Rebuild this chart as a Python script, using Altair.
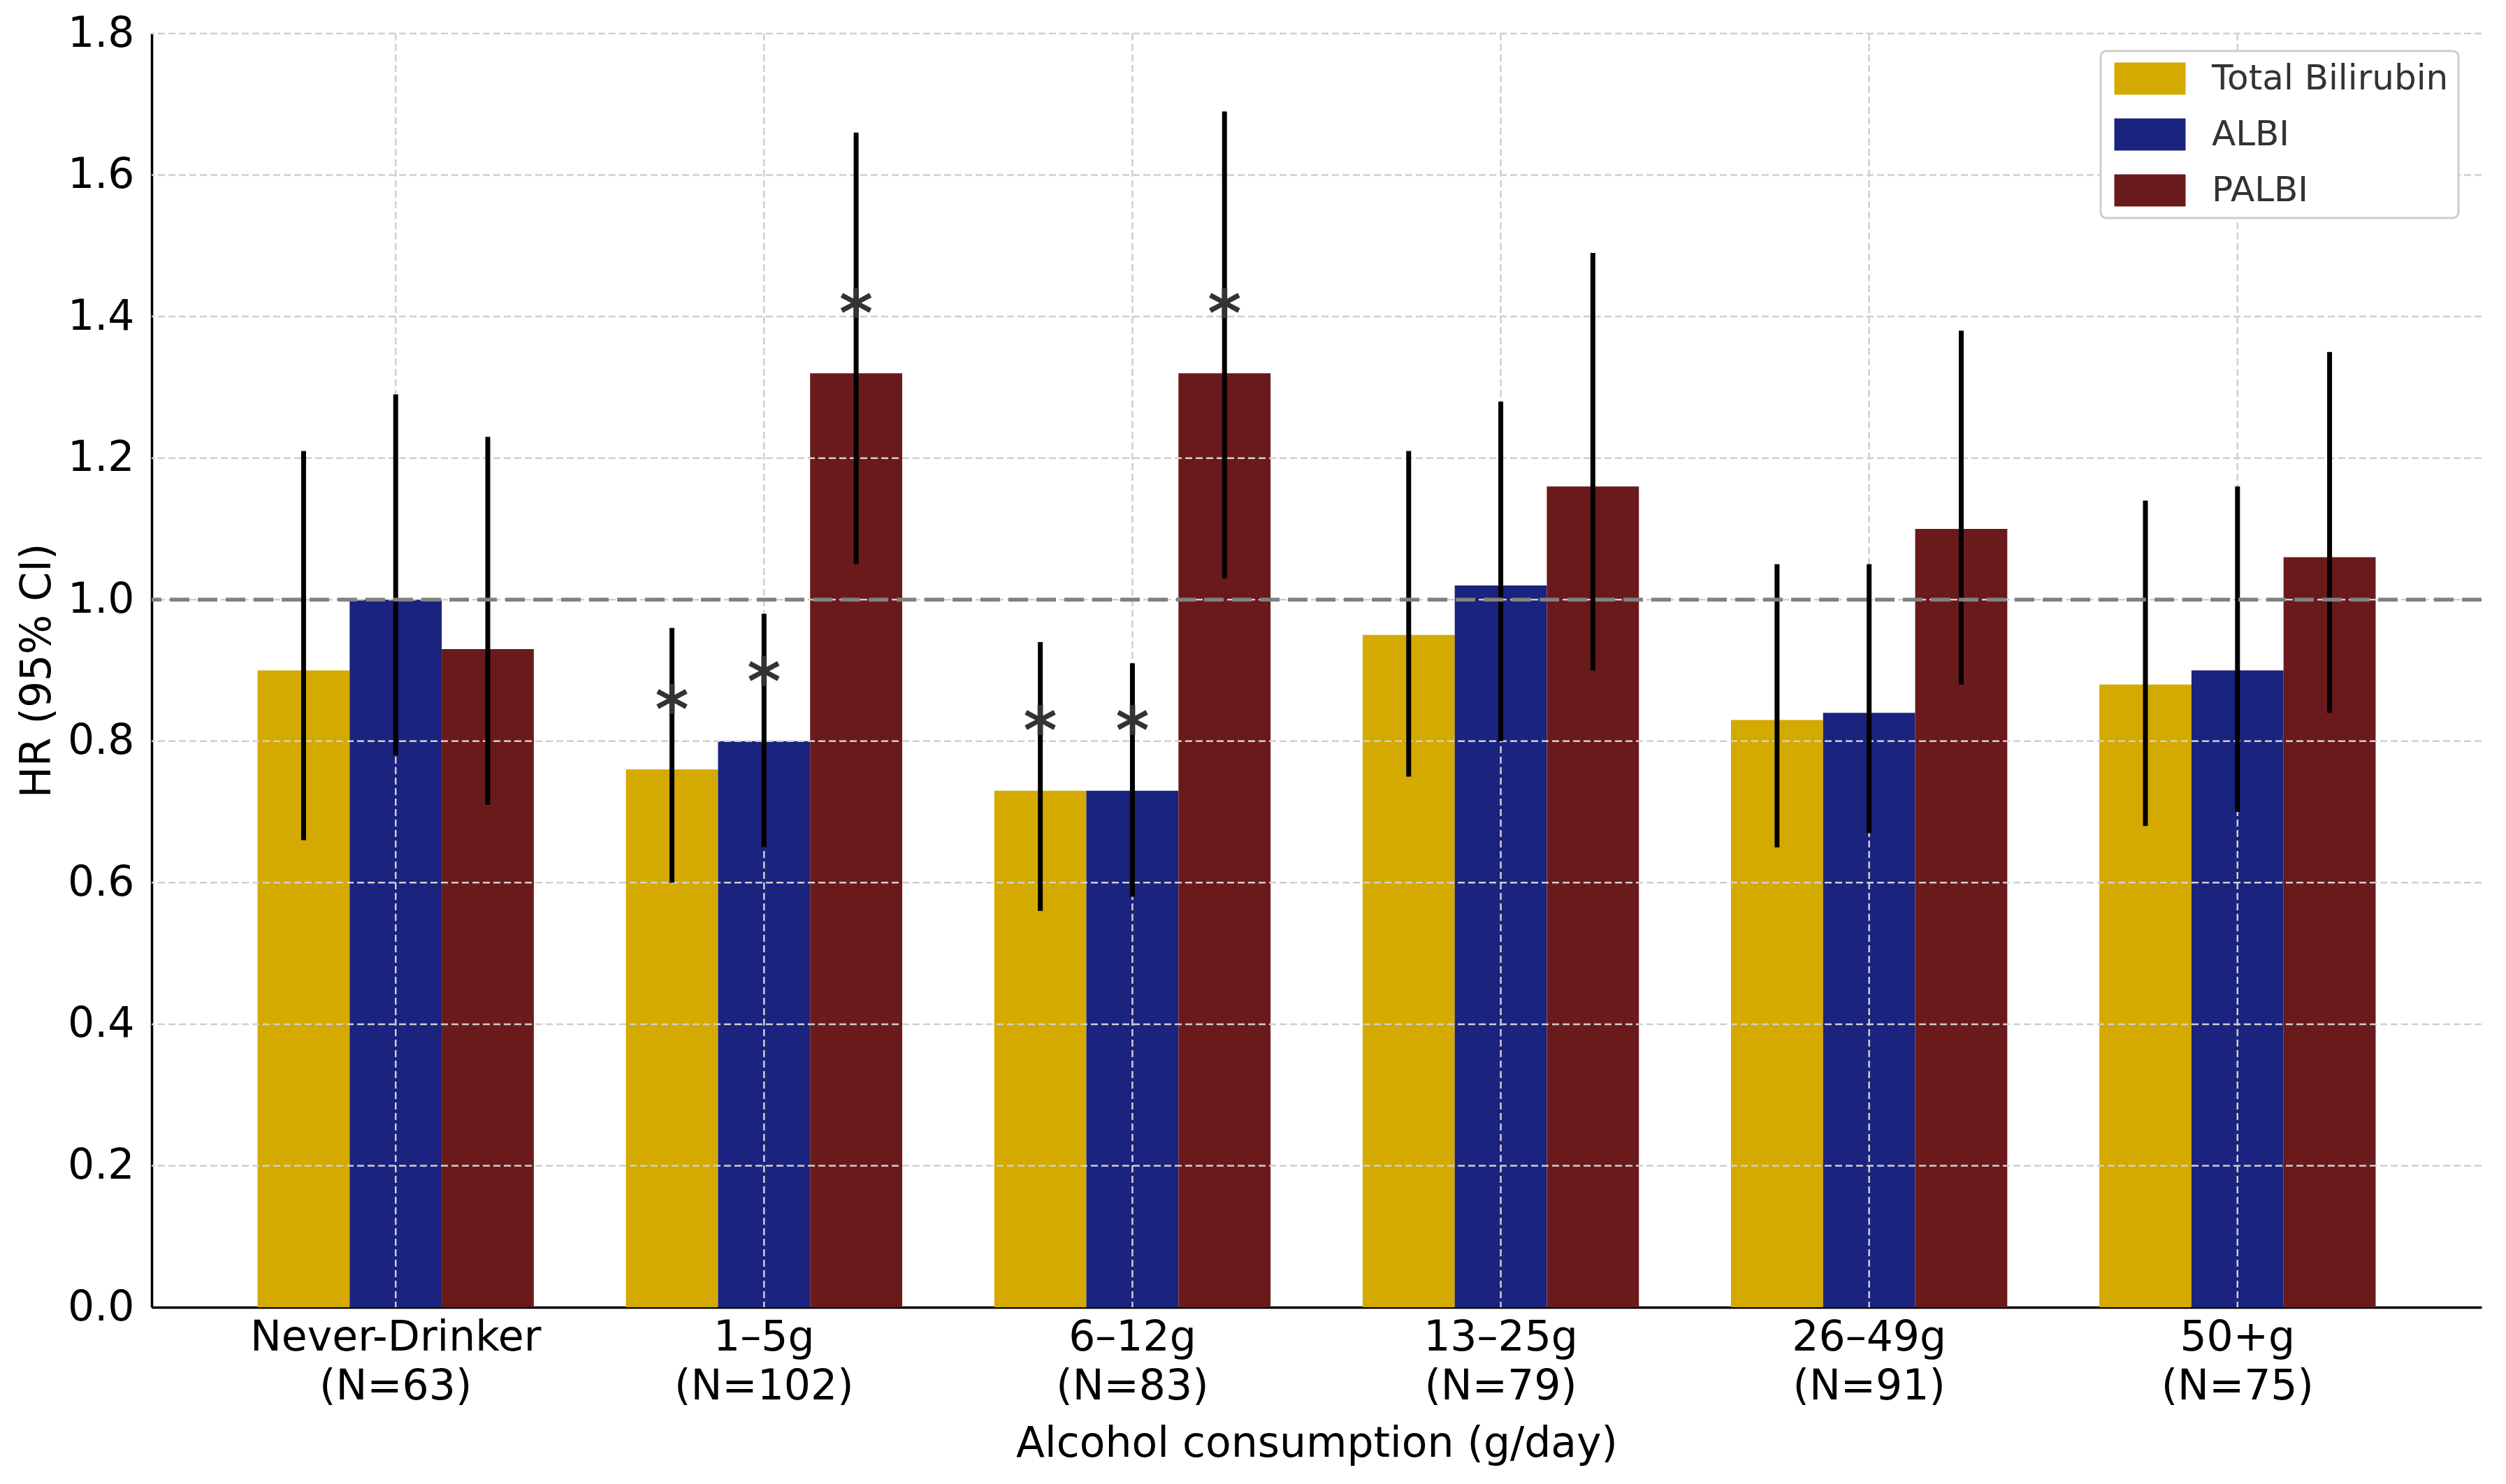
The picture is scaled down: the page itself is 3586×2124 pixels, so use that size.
import altair as alt
import pandas as pd

# ---------------- data ----------------
CATEGORIES = ["Never-Drinker", "1–5g", "6–12g", "13–25g", "26–49g", "50+g"]
N_COUNTS = [63, 102, 83, 79, 91, 75]
SERIES = ["Total Bilirubin", "ALBI", "PALBI"]
COLORS = ["#D4AA00", "#1A237E", "#6B1A1C"]

TB_HR = [0.90, 0.76, 0.73, 0.95, 0.83, 0.88]
TB_LO = [0.66, 0.60, 0.56, 0.75, 0.65, 0.68]
TB_HI = [1.21, 0.96, 0.94, 1.21, 1.05, 1.14]
TB_SIG = [False, True, True, False, False, False]

ALBI_HR = [1.00, 0.80, 0.73, 1.02, 0.84, 0.90]
ALBI_LO = [0.78, 0.65, 0.58, 0.80, 0.67, 0.70]
ALBI_HI = [1.29, 0.98, 0.91, 1.28, 1.05, 1.16]
ALBI_SIG = [False, True, True, False, False, False]

PALBI_HR = [0.93, 1.32, 1.32, 1.16, 1.10, 1.06]
PALBI_LO = [0.71, 1.05, 1.03, 0.90, 0.88, 0.84]
PALBI_HI = [1.23, 1.66, 1.69, 1.49, 1.38, 1.35]
PALBI_SIG = [False, True, True, False, False, False]

Y_TICKS = [0.0, 0.2, 0.4, 0.6, 0.8, 1.0, 1.2, 1.4, 1.6, 1.8]
REF_HR = 1.0
STAR_OFFSET = 0.1

# ---------------- table ----------------
rows = []
for name, hr, lo, hi, sig in [
    ("Total Bilirubin", TB_HR, TB_LO, TB_HI, TB_SIG),
    ("ALBI", ALBI_HR, ALBI_LO, ALBI_HI, ALBI_SIG),
    ("PALBI", PALBI_HR, PALBI_LO, PALBI_HI, PALBI_SIG),
]:
    for i, cat in enumerate(CATEGORIES):
        rows.append({
            "cat": f"{cat}|(N={N_COUNTS[i]})",
            "marker": name,
            "hr": hr[i], "lo": lo[i], "hi": hi[i],
            "star": "*" if sig[i] else "",
            "star_y": hr[i] + STAR_OFFSET,
        })
df = pd.DataFrame(rows)
cat_order = [f"{c}|(N={n})" for c, n in zip(CATEGORIES, N_COUNTS)]

x_enc = alt.X(
    "cat:N", sort=cat_order, title="Alcohol consumption (g/day)",
    scale=alt.Scale(domain=cat_order, paddingInner=0.25, paddingOuter=0.2875),
    axis=alt.Axis(labelAngle=0, labelExpr="split(datum.label, '|')",
                  labelLineHeight=70, labelPadding=14, titlePadding=23,
                  labelLimit=0),
)
xo_enc = alt.XOffset("marker:N", sort=SERIES,
                     scale=alt.Scale(domain=SERIES, paddingInner=0, paddingOuter=0))
y_scale = alt.Scale(domain=[0, 1.8], nice=False)

base = alt.Chart(df)

bars = base.mark_bar().encode(
    x=x_enc,
    xOffset=xo_enc,
    y=alt.Y("hr:Q", scale=y_scale, title="HR (95% CI)",
            axis=alt.Axis(values=Y_TICKS, format=".1f", labelPadding=25, titlePadding=12)),
    color=alt.Color("marker:N", sort=SERIES,
                    scale=alt.Scale(domain=SERIES, range=COLORS),
                    legend=alt.Legend(title=None)),
)

hgrid = alt.Chart(pd.DataFrame({"v": Y_TICKS})).transform_filter(
    "datum.v > 0"
).mark_rule(
    color="#cfcfcf", strokeWidth=2.5, strokeDash=[10, 5]
).encode(y=alt.Y("v:Q", scale=y_scale))

vgrid = alt.Chart(pd.DataFrame({"cat": cat_order})).mark_rule(
    color="#cfcfcf", strokeWidth=2.5, strokeDash=[10, 5]
).encode(x=alt.X("cat:N", sort=cat_order))

errs = base.mark_rule(color="black", strokeWidth=7).encode(
    x=alt.X("cat:N", sort=cat_order),
    xOffset=xo_enc,
    y=alt.Y("lo:Q", scale=y_scale),
    y2="hi:Q",
)

ref = alt.Chart(pd.DataFrame({"r": [REF_HR]})).mark_rule(
    color="#808080", strokeWidth=5.5, strokeDash=[28, 12]
).encode(y=alt.Y("r:Q", scale=y_scale))

stars = base.transform_filter("datum.star != ''").mark_text(
    fontSize=92, fontWeight="bold", color="#333333", baseline="middle",
    align="center", dy=20, font="DejaVu Sans",
).encode(
    x=alt.X("cat:N", sort=cat_order),
    xOffset=xo_enc,
    y=alt.Y("star_y:Q", scale=y_scale),
    text="star:N",
)

chart = alt.layer(bars, hgrid, vgrid, errs, ref, stars).properties(
    width=3334, height=1823,
    padding={"left": 15, "top": 10, "right": 5, "bottom": 5},
).configure(
    font="DejaVu Sans",
).configure_view(
    stroke=None,
).configure_axis(
    labelFont="DejaVu Sans", titleFont="DejaVu Sans",
    labelFontSize=60, titleFontSize=60,
    labelColor="black", titleColor="black",
    titleFontWeight="normal",
    domainColor="black", domainWidth=3.5,
    tickSize=0, grid=False, zindex=1,
).configure_legend(
    orient="none", legendX=2789, legendY=25,
    padding=14, strokeColor="#cccccc", strokeWidth=3, cornerRadius=8,
    fillColor="white",
    labelFont="DejaVu Sans", labelFontSize=50, labelColor="#333333",
    labelOffset=63, labelLimit=0,
    symbolType="M-2,-0.9L2,-0.9L2,0.9L-2,0.9Z",
    symbolSize=2601, symbolOffset=31, symbolStrokeWidth=0, rowPadding=29,
)

chart.save("out.html", embed_options={"renderer": "svg", "actions": False})
